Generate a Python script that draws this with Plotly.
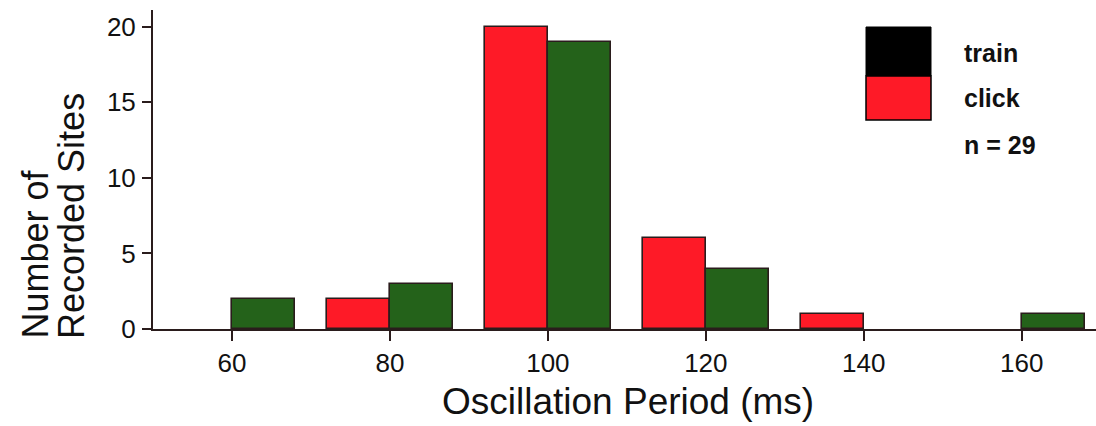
import plotly.graph_objects as go

# Histogram of oscillation periods (bin centres in ms)
bin_centers = [60, 80, 100, 120, 140, 160]
click_counts = [0, 2, 20, 6, 1, 0]
train_counts = [2, 3, 19, 4, 0, 1]
x_ticks = [60, 80, 100, 120, 140, 160]
y_ticks = [0, 5, 10, 15, 20]
legend_labels = ["train", "click", "n = 29"]

RED = "#fe1a27"
GREEN = "#24621a"
EDGE = "#2a1c1c"
FONT = "Liberation Sans, Arial, Helvetica, sans-serif"
BIN_W = 8

# plot-area geometry in pixels, used to place the key and titles
L, R, T, B = 153, 0, 10, 97
W, H = 1096, 426
PW, PH = W - L - R, H - T - B


def px_x(px):
    return (px - L) / PW


def px_y(py):
    return (H - B - py) / PH


def edge_widths(counts):
    # empty bins get no outline so they do not leave a sliver on the axis
    return [0 if c == 0 else 1.6 for c in counts]


fig = go.Figure()
fig.add_trace(go.Bar(
    x=bin_centers, y=click_counts, width=BIN_W, offset=-BIN_W,
    marker=dict(color=RED, line=dict(color=EDGE, width=edge_widths(click_counts))),
    name="click", showlegend=False,
))
fig.add_trace(go.Bar(
    x=bin_centers, y=train_counts, width=BIN_W, offset=0,
    marker=dict(color=GREEN, line=dict(color=EDGE, width=edge_widths(train_counts))),
    name="train", showlegend=False,
))

# hand-drawn key: stacked swatches plus text
fig.add_shape(type="rect", xref="paper", yref="paper",
              x0=px_x(866), x1=px_x(931), y0=px_y(76), y1=px_y(27),
              fillcolor="#000000", line=dict(color="#000000", width=1))
fig.add_shape(type="rect", xref="paper", yref="paper",
              x0=px_x(866), x1=px_x(931), y0=px_y(120), y1=px_y(76),
              fillcolor=RED, line=dict(color="#000000", width=1.5))
for label, py in zip(legend_labels, [53, 98, 145]):
    fig.add_annotation(text=f"<b>{label}</b>", xref="paper", yref="paper",
                       x=px_x(962), y=px_y(py), xanchor="left", yanchor="middle",
                       showarrow=False, font=dict(family=FONT, size=25, color="#111"))

# axis titles
fig.add_annotation(text="Oscillation Period (ms)", xref="paper", yref="paper",
                   x=px_x(628), y=px_y(401),
                   xanchor="center", yanchor="middle", showarrow=False,
                   font=dict(family=FONT, size=37, color="#111"))
for line, cx in [("Number of", 35), ("Recorded Sites", 71)]:
    fig.add_annotation(text=line, xref="paper", yref="paper",
                       x=px_x(cx), y=px_y(341),
                       xanchor="center", yanchor="bottom", textangle=-90,
                       showarrow=False,
                       font=dict(family=FONT, size=36, color="#111"))

fig.update_layout(
    width=W, height=H,
    margin=dict(l=L, r=R, t=T, b=B),
    paper_bgcolor="white", plot_bgcolor="white",
    barmode="overlay", bargap=0,
    font=dict(family=FONT, color="#111"),
)
fig.update_xaxes(
    range=[50, 169.4], tickvals=x_ticks, ticks="outside", ticklen=10,
    tickwidth=2, tickcolor=EDGE, showline=True, linecolor=EDGE, linewidth=2,
    showgrid=False, zeroline=False, tickfont=dict(family=FONT, size=26, color="#111"),
    ticklabelstandoff=0,
)
fig.update_yaxes(
    range=[0, 21.1], tickvals=y_ticks, ticks="outside", ticklen=9,
    tickwidth=2, tickcolor=EDGE, showline=True, linecolor=EDGE, linewidth=2,
    showgrid=False, zeroline=False, tickfont=dict(family=FONT, size=26, color="#111"),
    ticklabelstandoff=1,
)

fig.write_html("out.html")
